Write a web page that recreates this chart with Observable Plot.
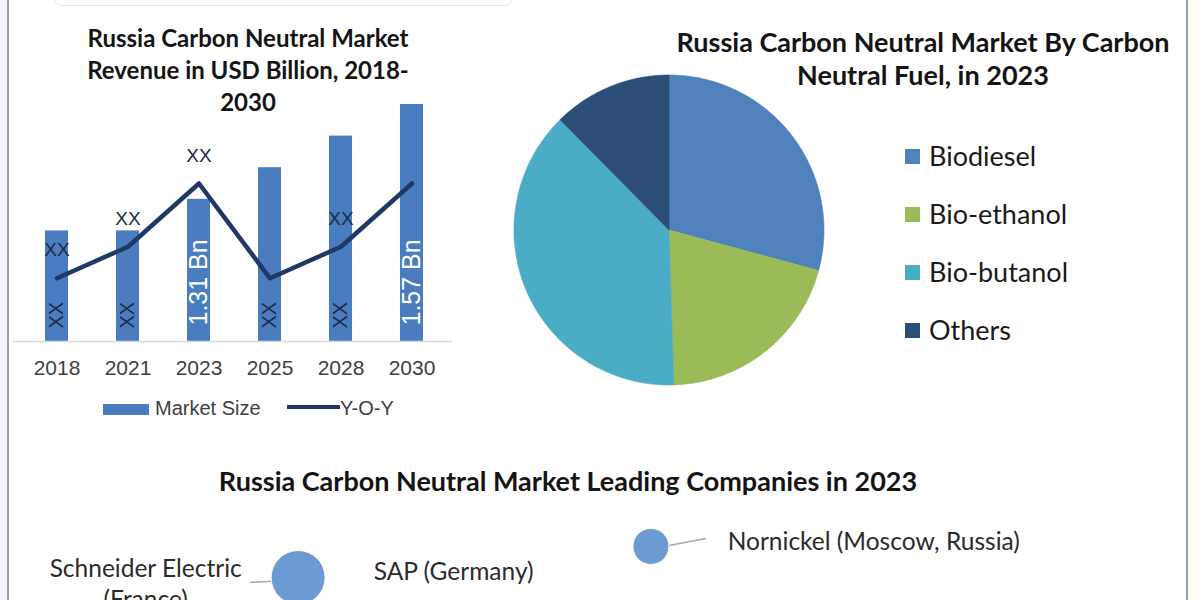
<!DOCTYPE html>
<html>
<head>
<meta charset="utf-8">
<script src="https://cdn.jsdelivr.net/npm/d3@7"></script>
<script src="https://cdn.jsdelivr.net/npm/@observablehq/plot@0.6"></script>
<style>
  html, body { margin: 0; padding: 0; width: 1200px; height: 600px; overflow: hidden; background: #fff; }
  #root { position: relative; width: 1200px; height: 600px; overflow: hidden; background: #fff; }
  .abs { position: absolute; }
  .ttl { font-family: Lato, "Open Sans", sans-serif; font-weight: 700; color: #141414; text-align: center; white-space: nowrap; }
  .leg { font-family: Lato, "Open Sans", sans-serif; font-size: 27px; line-height: 30px; color: #1a1a1a; white-space: nowrap; }
  .bleg { font-family: "Liberation Sans", Arial, sans-serif; font-size: 20px; line-height: 24px; color: #404040; white-space: nowrap; }
  svg { overflow: visible; }
</style>
</head>
<body>
<div id="root"></div>
<script>
// ---------- DATA ----------
// Market size (bars) and Y-O-Y (line), read in relative units from the picture
const years = ["2018", "2021", "2023", "2025", "2028", "2030"];
const marketSize = [3.5, 3.5, 4.5, 5.5, 6.5, 7.5];
const yoyGrowth = [2.0, 3.0, 5.0, 2.0, 3.0, 5.0];
const barLabels = ["XX", "XX", "1.31 Bn", "XX", "XX", "1.57 Bn"];
const yoyLabels = ["XX", "XX", "XX", "", "XX", ""];

// Pie: share by carbon neutral fuel, 2023 (%)
const fuels = ["Biodiesel", "Bio-ethanol", "Bio-butanol", "Others"];
const fuelShare = [29.2, 20.3, 38.1, 12.4];

// Leading companies (layout position in % of panel, bubble size)
const companyNames = ["Schneider Electric\n(France)", "SAP (Germany)", "Nornickel (Moscow, Russia)"];
const companyLabelX = [12.1, 31.1, 60.6];
const companyLabelY = [89.4, 83.5, 65.9];
const companyBubbleX = [24.8, null, 54.2];
const companyBubbleY = [86.5, null, 68.2];
const companyBubbleSize = [81, null, 36];
const leaderX1 = [20.8, null, 55.7];
const leaderY1 = [89.4, null, 67.6];
const leaderX2 = [23.6, null, 58.8];
const leaderY2 = [88.2, null, 63.5];

// Text
const barTitle = ["Russia Carbon Neutral Market", "Revenue in USD Billion, 2018-", "2030"];
const pieTitle = ["Russia Carbon Neutral Market By Carbon", "Neutral Fuel, in 2023"];
const companiesTitle = "Russia Carbon Neutral Market Leading Companies in 2023";

// ---------- STYLES ----------
const barColor = "#4a7dbf";
const lineColor = "#1f3864";
const fuelColors = ["#4f81bd", "#9bbb59", "#4bacc6", "#2c4d75"];
const bubbleColor = "#6c9bd3";

const root = document.getElementById("root");
function place(el, left, top) {
  el.classList.add("abs");
  el.style.left = left + "px";
  el.style.top = top + "px";
  root.appendChild(el);
  return el;
}
function div(cls, html, left, top, extra = {}) {
  const d = document.createElement("div");
  d.className = cls;
  d.innerHTML = html;
  Object.assign(d.style, extra);
  return place(d, left, top);
}

// frame decorations
div("", "", 0, 0, {width: "7px", height: "600px", background: "#f2f5f9"});
div("", "", 7, 0, {width: "2px", height: "600px", background: "#9aa1ab"});
div("", "", 1186, 0, {width: "2px", height: "600px", background: "#959ca8"});
div("", "", 1188, 0, {width: "12px", height: "600px", background: "#fffdf4"});
div("", "", 55, -10, {width: "455px", height: "14px", border: "1px solid #e9e9e9", borderRadius: "6px"});

// ---------- BAR + LINE CHART ----------
const bars = years.map((y, i) => ({
  year: y, size: marketSize[i], yoy: yoyGrowth[i], barLabel: barLabels[i], yoyLabel: yoyLabels[i]
}));

const barChart = Plot.plot({
  width: 460, height: 430,
  marginTop: 104, marginBottom: 89, marginLeft: 13, marginRight: 8,
  style: {fontFamily: "'Liberation Sans', Arial, sans-serif", background: "transparent", color: "#404040"},
  x: {type: "band", domain: years, range: [44, 424], paddingInner: 0.68, paddingOuter: 0, label: null},
  y: {domain: [0, 7.5], axis: null},
  marks: [
    Plot.barY(bars, {x: "year", y: "size", fill: barColor}),
    Plot.ruleY([0], {stroke: "#d9d9d9", strokeWidth: 1.5}),
    Plot.axisX({tickSize: 0, tickPadding: 19, fontSize: 21, label: null}),
    Plot.line(bars, {x: "year", y: "yoy", stroke: lineColor, strokeWidth: 4.5}),
    Plot.text(bars.filter(d => d.yoyLabel), {x: "year", y: "yoy", text: "yoyLabel", dy: -28, fontSize: 19, fill: "#1c2a48"}),
    Plot.text(bars.filter(d => d.barLabel === "XX"), {x: "year", y: () => 0, text: "barLabel", rotate: -90, textAnchor: "start", dy: -13, fontSize: 20, fill: "#1c2a48"}),
    Plot.text(bars.filter(d => d.barLabel !== "XX"), {x: "year", y: () => 0, text: "barLabel", rotate: -90, textAnchor: "start", dy: -16, fontSize: 25, fill: "#ffffff"})
  ]
});
place(barChart, 0, 0);

div("ttl", barTitle.join("<br>"), 48, 22, {width: "400px", fontSize: "24px", lineHeight: "32px"});

// bar legend
div("", "", 103, 404, {width: "46px", height: "11px", background: barColor});
div("bleg", "Market Size", 155, 396);
div("", "", 287, 405, {width: "53px", height: "4px", background: lineColor});
div("bleg", "Y-O-Y", 340, 396);

// ---------- PIE ----------
const pieData = fuels.map((f, i) => ({name: f, share: fuelShare[i]}));
const arcs = d3.pie().sort(null).value(d => d.share)(pieData);
const piePts = [];
for (const a of arcs) {
  const n = Math.max(2, Math.ceil((a.endAngle - a.startAngle) / (Math.PI / 360)));
  piePts.push({name: a.data.name, x: 0, y: 0});
  for (let i = 0; i <= n; i++) {
    const t = a.startAngle + (a.endAngle - a.startAngle) * i / n;
    piePts.push({name: a.data.name, x: Math.sin(t), y: Math.cos(t)});
  }
  piePts.push({name: a.data.name, x: 0, y: 0});
}

const pie = Plot.plot({
  width: 380, height: 340,
  marginLeft: 33.5, marginRight: 36.5, marginTop: 14.5, marginBottom: 15.5,
  style: {background: "transparent"},
  x: {domain: [-1, 1], axis: null},
  y: {domain: [-1, 1], axis: null},
  color: {domain: fuels, range: fuelColors},
  marks: [
    Plot.line(piePts, {x: "x", y: "y", z: "name", fill: "name", stroke: "name", strokeWidth: 0.6})
  ]
});
place(pie, 480, 60);

div("ttl", pieTitle.join("<br>"), 623, 25, {width: "600px", fontSize: "27px", lineHeight: "33px"});

// pie legend
fuels.forEach((f, i) => {
  div("", "", 905, 149 + i * 58, {width: "15px", height: "15px", background: fuelColors[i]});
  div("leg", f, 929, 141 + i * 58);
});

// ---------- LEADING COMPANIES ----------
div("ttl", companiesTitle, 118, 465, {width: "900px", fontSize: "27px", lineHeight: "32px"});

const comps = companyNames.map((n, i) => ({
  name: n, lx: companyLabelX[i], ly: companyLabelY[i],
  bx: companyBubbleX[i], by: companyBubbleY[i], size: companyBubbleSize[i],
  x1: leaderX1[i], y1: leaderY1[i], x2: leaderX2[i], y2: leaderY2[i]
}));
const withBubble = comps.filter(d => d.size != null);

const compChart = Plot.plot({
  width: 1200, height: 170,
  margin: 0,
  style: {background: "transparent", fontFamily: "Lato, 'Open Sans', sans-serif"},
  x: {domain: [0, 100], axis: null},
  y: {domain: [0, 100], range: [0, 170], axis: null},
  r: {type: "sqrt", domain: [0, 100], range: [0, 30]},
  marks: [
    Plot.link(withBubble, {x1: "x1", y1: "y1", x2: "x2", y2: "y2", stroke: "#a6a6a6", strokeWidth: 1.5}),
    Plot.dot(withBubble, {x: "bx", y: "by", r: "size", fill: bubbleColor, stroke: "#fdfbea", strokeWidth: 1}),
    Plot.text(comps.slice(0, 1), {x: "lx", y: "ly", text: "name", textAnchor: "middle", fontSize: 24.5, lineHeight: 1.25, fill: "#2b2b2b"}),
    Plot.text(comps.slice(1), {x: "lx", y: "ly", text: "name", textAnchor: "start", fontSize: 24.5, fill: "#2b2b2b"})
  ]
});
place(compChart, 0, 430);
</script>
</body>
</html>
